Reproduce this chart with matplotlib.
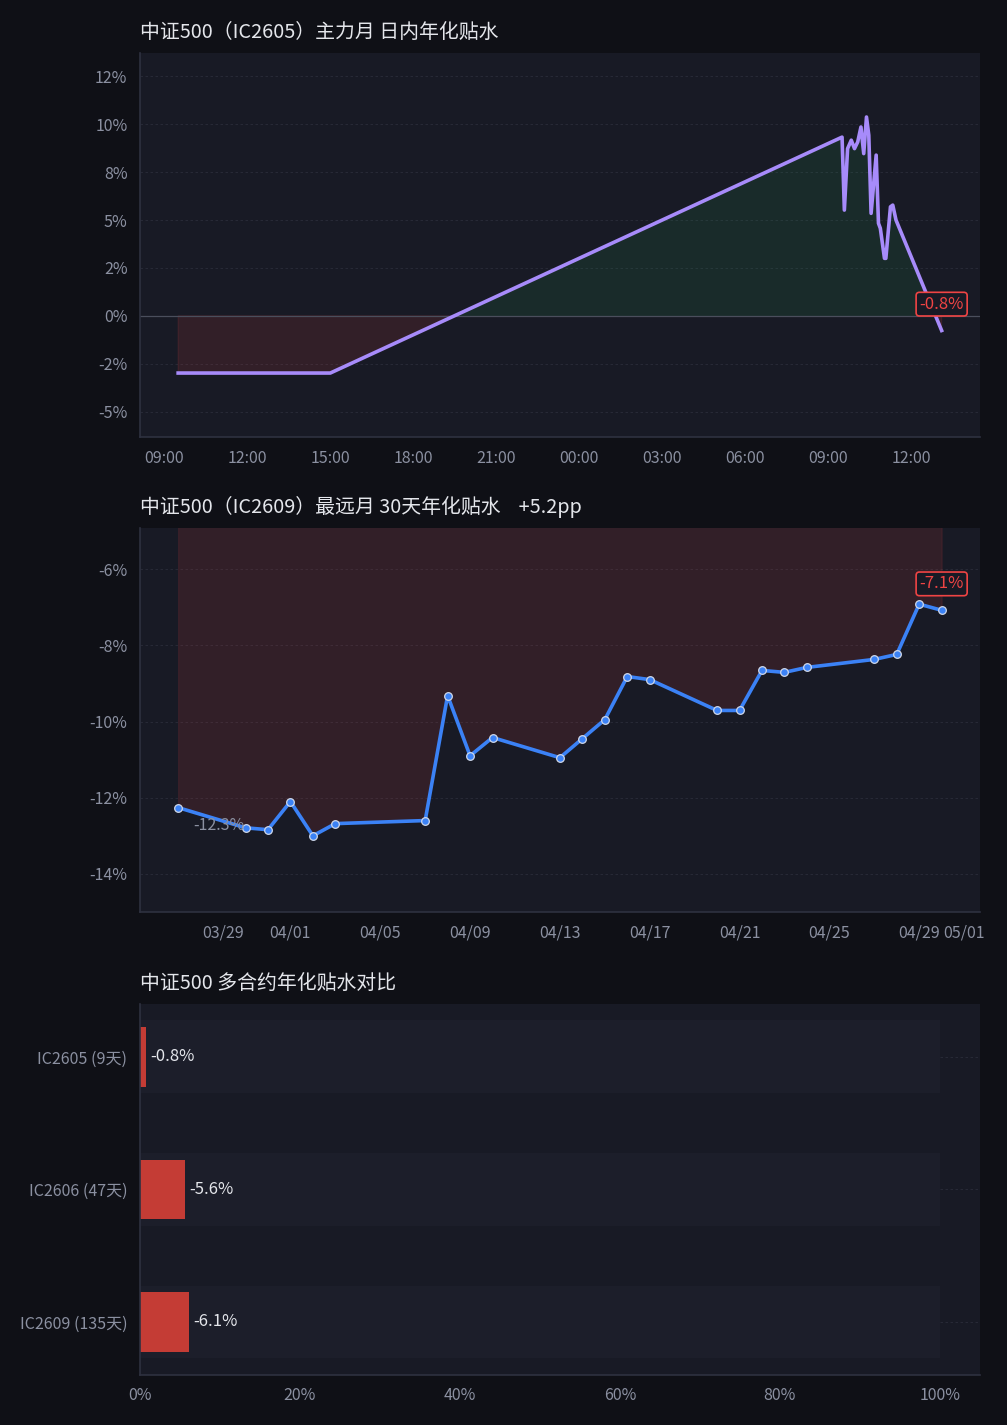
import datetime as dt
import numpy as np
import matplotlib
matplotlib.use('Agg')
import matplotlib.pyplot as plt
import matplotlib.dates as mdates
from matplotlib.ticker import FuncFormatter

plt.rcParams['font.family'] = ['Noto Sans CJK SC', 'DejaVu Sans']
plt.rcParams['axes.unicode_minus'] = False

# ---- data ----
# intraday annualised basis, IC2605 (day1 flat, then day2 morning session)
intra_times = ['2026-04-29 09:30', '2026-04-29 15:00',
               '2026-04-30 09:30', '2026-04-30 09:35', '2026-04-30 09:42',
               '2026-04-30 09:50', '2026-04-30 09:57', '2026-04-30 10:04',
               '2026-04-30 10:11', '2026-04-30 10:17', '2026-04-30 10:23',
               '2026-04-30 10:28', '2026-04-30 10:33', '2026-04-30 10:44',
               '2026-04-30 10:49', '2026-04-30 10:53', '2026-04-30 11:02',
               '2026-04-30 11:05', '2026-04-30 11:15', '2026-04-30 11:20',
               '2026-04-30 11:27', '2026-04-30 13:06']
intra_vals = [-2.99, -2.99,
              9.33, 5.52, 8.73, 9.17, 8.73, 9.08, 9.86, 8.47, 10.38,
              9.43, 5.35, 8.39, 4.83, 4.57, 3.0, 3.0, 5.69, 5.78, 5.0, -0.77]
intra_last_label = '-0.8%'

# 30-day history, IC2609
hist_dates = ['03-27', '03-30', '03-31', '04-01', '04-02', '04-03', '04-07',
              '04-08', '04-09', '04-10', '04-13', '04-14', '04-15', '04-16',
              '04-17', '04-20', '04-21', '04-22', '04-23', '04-24', '04-27',
              '04-28', '04-29', '04-30']
hist_vals = [-12.26, -12.79, -12.84, -12.1, -13.0, -12.68, -12.6,
             -9.32, -10.9, -10.42, -10.95, -10.45, -9.95, -8.82,
             -8.9, -9.71, -9.71, -8.66, -8.71, -8.58, -8.37,
             -8.24, -6.92, -7.08]
hist_change = '+5.2pp'

# contract comparison
contracts = ['IC2605 (9天)', 'IC2606 (47天)', 'IC2609 (135天)']
contract_vals = [-0.8, -5.6, -6.1]

# ---- style ----
FIG_BG = '#0f1016'
AX_BG = '#181a25'
TXT = '#e4e6eb'
TICK = '#8b90a1'
SPINE = '#2e3140'
GRID = '#2a2d3a'
RED = '#ef4444'
GREEN = '#22c55e'

fig = plt.figure(figsize=(10.07, 14.25), dpi=100, facecolor=FIG_BG)
ax1 = fig.add_axes([0.139, 0.6933, 0.834, 0.2695])
ax2 = fig.add_axes([0.139, 0.36, 0.834, 0.2695])
ax3 = fig.add_axes([0.139, 0.0351, 0.834, 0.2604])


def style(ax):
    ax.set_facecolor(AX_BG)
    for s in ['top', 'right']:
        ax.spines[s].set_visible(False)
    for s in ['left', 'bottom']:
        ax.spines[s].set_color(SPINE)
        ax.spines[s].set_linewidth(1.2)
    ax.tick_params(colors=TICK, labelsize=11.5, length=0, pad=9)
    ax.grid(axis='y', color=GRID, linestyle=(0, (3, 3)), linewidth=0.6)
    ax.set_axisbelow(True)


pct0 = FuncFormatter(lambda v, p: '{:.0f}%'.format(v))

# ---- top: intraday ----
style(ax1)
t = [dt.datetime.strptime(s, '%Y-%m-%d %H:%M') for s in intra_times]
v = np.array(intra_vals)
ax1.plot(t, v, color='#a78bfa', linewidth=2.6, zorder=3)
ax1.fill_between(t, v, 0, where=v >= 0, interpolate=True, color=GREEN, alpha=0.1, linewidth=0)
ax1.fill_between(t, v, 0, where=v < 0, interpolate=True, color=RED, alpha=0.12, linewidth=0.8,
                 edgecolor=(0.94, 0.27, 0.27, 0.15))
ax1.axhline(0, color='#4a4e5c', linewidth=0.9, zorder=2)
rng = v.max() - v.min()
ax1.set_ylim(v.min() - 0.25 * rng, v.max() + 0.25 * rng)
ax1.yaxis.set_major_locator(matplotlib.ticker.MultipleLocator(2.5))
ax1.yaxis.set_major_formatter(pct0)
ax1.xaxis.set_major_locator(mdates.HourLocator(byhour=range(0, 24, 3)))
ax1.xaxis.set_major_formatter(mdates.DateFormatter('%H:%M'))
ax1.set_title('中证500（IC2605）主力月 日内年化贴水', loc='left', color=TXT, fontsize=14.3, pad=11)
ax1.annotate(intra_last_label, (t[-1], v[-1]), xytext=(0, 19), textcoords='offset points',
             ha='center', va='center', color=RED, fontsize=12, zorder=5,
             bbox=dict(boxstyle='round,pad=0.2', fc=AX_BG, ec=RED, lw=1.2))

# ---- middle: 30-day ----
style(ax2)
d = [dt.datetime.strptime('2026-' + s, '%Y-%m-%d') for s in hist_dates]
h = np.array(hist_vals)
ax2.fill_between(d, h, 0, color=RED, alpha=0.12, linewidth=0.8,
                 edgecolor=(0.94, 0.27, 0.27, 0.15))
ax2.plot(d, h, color='#3b82f6', linewidth=2.6, marker='o', markersize=5.5,
         markerfacecolor='#3b82f6', markeredgecolor='#cfd8ea', markeredgewidth=0.9, zorder=3)
ax2.set_ylim(h.min() - 2, h.max() + 2)
ax2.yaxis.set_major_formatter(pct0)
ax2.xaxis.set_major_locator(mdates.DayLocator(bymonthday=[1, 5, 9, 13, 17, 21, 25, 29]))
ax2.xaxis.set_major_formatter(mdates.DateFormatter('%m/%d'))
ax2.set_title('中证500（IC2609）最远月 30天年化贴水    ' + hist_change, loc='left',
              color=TXT, fontsize=14.3, pad=11)
ax2.annotate('{:.1f}%'.format(h[0]), (d[0], h[0]), xytext=(11, -13), textcoords='offset points',
             ha='left', va='center', color=TICK, fontsize=11.5, zorder=4)
ax2.annotate('{:.1f}%'.format(h[-1]), (d[-1], h[-1]), xytext=(0, 19), textcoords='offset points',
             ha='center', va='center', color=RED, fontsize=12, zorder=5,
             bbox=dict(boxstyle='round,pad=0.2', fc=AX_BG, ec=RED, lw=1.2))

# ---- bottom: contracts ----
style(ax3)
y = np.arange(len(contracts))
ax3.barh(y, [100] * len(contracts), height=0.55, color='#1c1e2a', zorder=1)
ax3.barh(y, np.abs(contract_vals), height=0.45, color='#c43c35', zorder=2)
for yi, cv in zip(y, contract_vals):
    ax3.text(abs(cv) + 0.5, yi, '{:.1f}%'.format(cv), va='center', ha='left',
             color=TXT, fontsize=12, zorder=3)
ax3.set_yticks(y)
ax3.set_yticklabels(contracts)
ax3.set_ylim(2.4, -0.4)
ax3.set_xlim(0, 105)
ax3.set_xticks(range(0, 101, 20))
ax3.xaxis.set_major_formatter(pct0)
ax3.set_title('中证500 多合约年化贴水对比', loc='left', color=TXT, fontsize=14.3, pad=11)

fig.savefig('out.png', dpi=100, facecolor=FIG_BG)
